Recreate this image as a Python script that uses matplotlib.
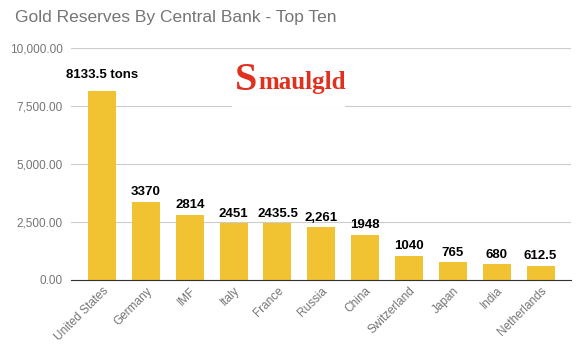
import matplotlib.pyplot as plt
from matplotlib.patches import Rectangle
from matplotlib.ticker import FuncFormatter

countries = ['United States', 'Germany', 'IMF', 'Italy', 'France', 'Russia',
             'China', 'Switzerland', 'Japan', 'India', 'Netherlands']
tons = [8133.5, 3370, 2814, 2451, 2435.5, 2261, 1948, 1040, 765, 680, 612.5]
value_labels = ['8133.5 tons', '3370', '2814', '2451', '2435.5', '2,261',
                '1948', '1040', '765', '680', '612.5']
y_ticks = [0, 2500, 5000, 7500, 10000]

plt.rcParams['font.family'] = ['Liberation Sans', 'DejaVu Sans']

fig = plt.figure(figsize=(5.8, 3.57), dpi=100)
ax = fig.add_axes([0.123, 0.216, 0.862, 0.65])

x = range(len(countries))
ax.bar(x, tons, width=0.64, color='#F1C232', zorder=3)

for i, (v, lab) in enumerate(zip(tons, value_labels)):
    off = 450 if i == 0 else 150
    ax.text(i, v + off, lab, ha='center', va='bottom', fontsize=9.5,
            fontweight='bold', color='black', zorder=4)

ax.set_xlim(-0.7, 10.7)
ax.set_ylim(0, 10000)
ax.set_yticks(y_ticks)
ax.yaxis.set_major_formatter(FuncFormatter(lambda v, p: f'{v:,.2f}'))
ax.grid(axis='y', color='#cccccc', linewidth=0.8, zorder=0)
for s in ['top', 'right', 'left']:
    ax.spines[s].set_visible(False)
ax.spines['bottom'].set_color('#333333')
ax.spines['bottom'].set_zorder(5)
ax.tick_params(axis='both', length=0, colors='#757575', labelsize=8.5)
ax.tick_params(axis='y', pad=6)
ax.set_xticks(list(x))
ax.set_xticklabels(countries, rotation=45, ha='right', rotation_mode='anchor')

fig.text(0.026, 0.952, 'Gold Reserves By Central Bank - Top Ten', fontsize=12.5,
         color='#757575', va='center', ha='left')

# logo on a white patch
fig.patches.append(Rectangle((0.4, 0.70), 0.195, 0.15, transform=fig.transFigure,
                             facecolor='white', edgecolor='none', zorder=6))
fig.text(0.425, 0.775, 'S', fontsize=29, fontweight='bold', family='Liberation Serif',
         color='#E0301E', ha='center', va='center', zorder=7)
fig.text(0.445, 0.768, 'maulgld', fontsize=18, fontweight='bold',
         family='Liberation Serif', color='#E0301E', ha='left', va='center', zorder=7)

fig.savefig('out.png', dpi=100)
